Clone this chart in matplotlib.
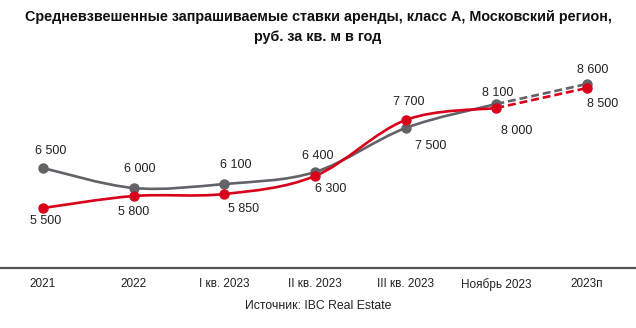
import matplotlib
matplotlib.use("Agg")
import matplotlib.pyplot as plt
from matplotlib.path import Path
from matplotlib.patches import PathPatch
import numpy as np

plt.rcParams['font.family'] = ['Liberation Sans', 'DejaVu Sans']

categories = ["2021", "2022", "I кв. 2023", "II кв. 2023", "III кв. 2023", "Ноябрь 2023", "2023п"]
gray_values = [6500, 6000, 6100, 6400, 7500, 8100, 8600]
red_values = [5500, 5800, 5850, 6300, 7700, 8000, 8500]
title = "Средневзвешенные запрашиваемые ставки аренды, класс А, Московский регион,\nруб. за кв. м в год"
source = "Источник: IBC Real Estate"

GRAY = "#626268"
RED = "#d9001b"

fig = plt.figure(figsize=(6.36, 3.28), dpi=100)
ax = fig.add_axes([0, 60/328, 1, 200/328])
ax.set_xlim(-0.474, 6.54)
ax.set_ylim(4000, 9000)


def smooth_path(xs, ys):
    pts = np.column_stack([xs, ys]).astype(float)
    n = len(pts)
    verts = [pts[0]]
    codes = [Path.MOVETO]
    for i in range(n - 1):
        p0 = pts[i - 1] if i > 0 else pts[i]
        p1 = pts[i]
        p2 = pts[i + 1]
        p3 = pts[i + 2] if i + 2 < n else pts[i + 1]
        c1 = p1 + (p2 - p0) / 6.0
        c2 = p2 - (p3 - p1) / 6.0
        verts += [c1, c2, p2]
        codes += [Path.CURVE4] * 3
    return Path(verts, codes)


x = np.arange(len(categories))
n_solid = 6
for vals, col in [(gray_values, GRAY), (red_values, RED)]:
    path = smooth_path(x[:n_solid], vals[:n_solid])
    ax.add_patch(PathPatch(path, facecolor="none", edgecolor=col, lw=1.9, capstyle="round", zorder=3))
    ax.plot(x[n_solid - 1:], vals[n_solid - 1:], color=col, lw=1.9, ls=(0, (3, 1.5)), zorder=3)
    ax.plot(x, vals, 'o', color=col, ms=6.5, zorder=4)

fmt = lambda v: f"{v:,}".replace(",", " ")
gray_offsets = [(8, 17), (6, 19), (11, 19), (3, 16), (25, -18), (1, 11), (6, 14)]
red_offsets = [(3, -13), (0, -16), (19, -15), (16, -13), (3, 18), (20, -23), (16, -16)]
for i in range(len(categories)):
    ax.annotate(fmt(gray_values[i]), (x[i], gray_values[i]), xytext=gray_offsets[i],
                textcoords="offset pixels", ha="center", va="center", fontsize=9, color="#222222")
    ax.annotate(fmt(red_values[i]), (x[i], red_values[i]), xytext=red_offsets[i],
                textcoords="offset pixels", ha="center", va="center", fontsize=9, color="#222222")

for s in ["top", "left", "right"]:
    ax.spines[s].set_visible(False)
ax.spines["bottom"].set_color("#555555")
ax.spines["bottom"].set_linewidth(1.6)
ax.set_yticks([])
ax.set_xticks(x)
ax.set_xticklabels(categories, fontsize=8.5, color="#222222")
ax.tick_params(axis="x", length=0, pad=7)

fig.text(0.5, 1 - 27/328, title, ha="center", va="center", fontsize=10.4, fontweight="bold",
         linespacing=1.5, color="#111111")
fig.text(0.5, 1 - 306/328, source, ha="center", va="center", fontsize=8.8, color="#222222")

fig.savefig("out.png", dpi=100)
